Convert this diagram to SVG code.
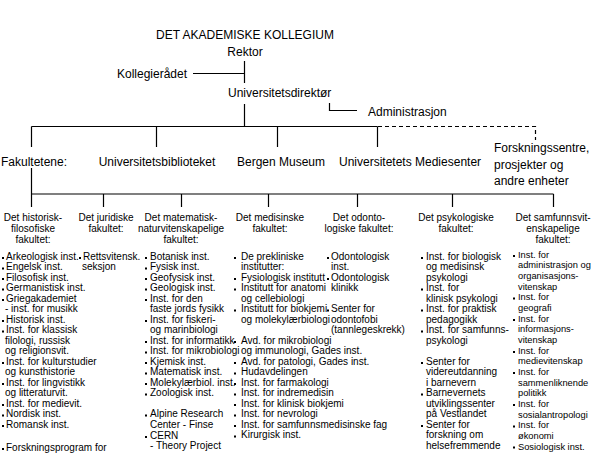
<svg xmlns="http://www.w3.org/2000/svg" width="591" height="455" viewBox="0 0 591 455">
<style>
text{font-family:"Liberation Sans",Arial,sans-serif;fill:#000}
.h{font-size:12px}
.s{font-size:10px}
.n{font-size:9.3px}
.m{text-anchor:middle}
.ln{stroke:#000;stroke-width:1.2;fill:none}
.dash{stroke:#000;stroke-width:1.2;fill:none;stroke-dasharray:4 3}
.b{fill:#000}
</style>
<rect width="591" height="455" fill="#fff"/>
<g id="connectors">
<path class="ln" d="M244.5 61V83M193 73.5H244.5M244.5 104V126.5M329.5 103V110.5H357"/>
<path class="ln" d="M31.5 126.5H377.5M31.5 126.5V147M156.5 126.5V147M277.5 126.5V147M377.5 126.5V147"/>
<path class="dash" d="M378 126.5H535.5V140"/>
<path class="ln" d="M31.5 168V194M31.5 194H553.5M31.5 194V207M103.5 194V207M181.5 194V207M268.5 194V207M357.5 194V207M452.5 194V207M553.5 194V207"/>
</g>
<g id="kollegium"><text class="h m" x="245" y="39">DET AKADEMISKE KOLLEGIUM</text></g>
<g id="rektor"><text class="h m" x="245" y="56">Rektor</text></g>
<g id="kollegieradet"><text class="h" x="117" y="77.5">Kollegierådet</text></g>
<g id="direktor"><text class="h" x="228" y="97">Universitetsdirektør</text></g>
<g id="administrasjon"><text class="h" x="368" y="115.5">Administrasjon</text></g>
<g id="fakultetene"><text class="h" x="1" y="165.5">Fakultetene:</text></g>
<g id="ub"><text class="h m" x="157" y="165.5">Universitetsbiblioteket</text></g>
<g id="museum"><text class="h" x="237" y="165.5">Bergen Museum</text></g>
<g id="mediesenter"><text class="h" x="339" y="165.5">Universitetets Mediesenter</text></g>
<g id="forskning"><text class="h" x="494" y="152">Forskningssentre,</text><text class="h" x="494" y="168.5">prosjekter og</text><text class="h" x="494" y="185">andre enheter</text></g>

<g id="hf">
<text class="s m" x="33" y="221">Det historisk-</text>
<text class="s m" x="33" y="232">filosofiske</text>
<text class="s m" x="33" y="243">fakultet:</text>
<g class="b"><rect x="2" y="257" width="2" height="2"/><rect x="2" y="267.5" width="2" height="2"/><rect x="2" y="278" width="2" height="2"/><rect x="2" y="288.5" width="2" height="2"/><rect x="2" y="299" width="2" height="2"/><rect x="2" y="320" width="2" height="2"/><rect x="2" y="330.5" width="2" height="2"/><rect x="2" y="362" width="2" height="2"/><rect x="2" y="383" width="2" height="2"/><rect x="2" y="404" width="2" height="2"/><rect x="2" y="414.5" width="2" height="2"/><rect x="2" y="425" width="2" height="2"/><rect x="2" y="448" width="2" height="2"/></g>
<text class="s" x="6" y="259.5">Arkeologisk inst.</text>
<text class="s" x="6" y="270">Engelsk inst.</text>
<text class="s" x="6" y="280.5">Filosofisk inst.</text>
<text class="s" x="6" y="291">Germanistisk inst.</text>
<text class="s" x="6" y="301.5">Griegakademiet</text>
<text class="s" x="5" y="312">- inst. for musikk</text>
<text class="s" x="6" y="322.5">Historisk inst.</text>
<text class="s" x="6" y="333">Inst. for klassisk</text>
<text class="s" x="5" y="343.5">filologi, russisk</text>
<text class="s" x="5" y="354">og religionsvit.</text>
<text class="s" x="6" y="364.5">Inst. for kulturstudier</text>
<text class="s" x="5" y="375">og kunsthistorie</text>
<text class="s" x="6" y="385.5">Inst. for lingvistikk</text>
<text class="s" x="5" y="396">og litteraturvit.</text>
<text class="s" x="6" y="406.5">Inst. for medievit.</text>
<text class="s" x="6" y="417">Nordisk inst.</text>
<text class="s" x="6" y="427.5">Romansk inst.</text>
<text class="s" x="6" y="451">Forskningsprogram for</text>
</g>

<g id="jur">
<text class="s m" x="106" y="221">Det juridiske</text>
<text class="s m" x="106" y="232">fakultet:</text>
<rect class="b" x="79" y="257" width="2" height="2"/>
<text class="s" x="83" y="259.5">Rettsvitensk.</text>
<text class="s" x="82" y="270">seksjon</text>
</g>

<g id="mn">
<text class="s m" x="181" y="221">Det matematisk-</text>
<text class="s m" x="181" y="232">naturvitenskapelige</text>
<text class="s m" x="181" y="243">fakultet:</text>
<g class="b"><rect x="145" y="257" width="2" height="2"/><rect x="145" y="267.5" width="2" height="2"/><rect x="145" y="278" width="2" height="2"/><rect x="145" y="288.5" width="2" height="2"/><rect x="145" y="299" width="2" height="2"/><rect x="145" y="320" width="2" height="2"/><rect x="145" y="341" width="2" height="2"/><rect x="145" y="351.5" width="2" height="2"/><rect x="145" y="362" width="2" height="2"/><rect x="145" y="372.5" width="2" height="2"/><rect x="145" y="383" width="2" height="2"/><rect x="145" y="393.5" width="2" height="2"/><rect x="145" y="414.5" width="2" height="2"/><rect x="145" y="436" width="2" height="2"/></g>
<text class="s" x="150" y="259.5">Botanisk inst.</text>
<text class="s" x="150" y="270">Fysisk inst.</text>
<text class="s" x="150" y="280.5">Geofysisk inst.</text>
<text class="s" x="150" y="291">Geologisk inst.</text>
<text class="s" x="150" y="301.5">Inst. for den</text>
<text class="s" x="150" y="312">faste jords fysikk</text>
<text class="s" x="150" y="322.5">Inst. for fiskeri-</text>
<text class="s" x="150" y="333">og marinbiologi</text>
<text class="s" x="150" y="343.5">Inst. for informatikk</text>
<text class="s" x="150" y="354">Inst. for mikrobiologi</text>
<text class="s" x="150" y="364.5">Kjemisk inst.</text>
<text class="s" x="150" y="375">Matematisk inst.</text>
<text class="s" x="150" y="385.5">Molekylærbiol. inst.</text>
<text class="s" x="150" y="396">Zoologisk inst.</text>
<text class="s" x="150" y="417">Alpine Research</text>
<text class="s" x="150" y="427.5">Center - Finse</text>
<text class="s" x="150" y="438.5">CERN</text>
<text class="s" x="150" y="449">- Theory Project</text>
</g>

<g id="med">
<text class="s m" x="270" y="221">Det medisinske</text>
<text class="s m" x="270" y="232">fakultet:</text>
<g class="b"><rect x="234" y="257" width="2" height="2"/><rect x="234" y="278" width="2" height="2"/><rect x="234" y="288.5" width="2" height="2"/><rect x="234" y="309.5" width="2" height="2"/><rect x="234" y="341" width="2" height="2"/><rect x="234" y="362" width="2" height="2"/><rect x="234" y="372.5" width="2" height="2"/><rect x="234" y="383" width="2" height="2"/><rect x="234" y="393.5" width="2" height="2"/><rect x="234" y="404" width="2" height="2"/><rect x="234" y="414.5" width="2" height="2"/><rect x="234" y="425" width="2" height="2"/><rect x="234" y="435.5" width="2" height="2"/></g>
<text class="s" x="241" y="259.5">De prekliniske</text>
<text class="s" x="241" y="270">institutter:</text>
<text class="s" x="241" y="280.5">Fysiologisk institutt</text>
<text class="s" x="241" y="291">Institutt for anatomi</text>
<text class="s" x="241" y="301.5">og cellebiologi</text>
<text class="s" x="241" y="312">Institutt for biokjemi</text>
<text class="s" x="241" y="322.5">og molekylærbiologi</text>
<text class="s" x="241" y="343.5">Avd. for  mikrobiologi</text>
<text class="s" x="241" y="354">og immunologi, Gades inst.</text>
<text class="s" x="241" y="364.5">Avd. for patologi, Gades inst.</text>
<text class="s" x="241" y="375">Hudavdelingen</text>
<text class="s" x="241" y="385.5">Inst. for farmakologi</text>
<text class="s" x="241" y="396">Inst. for indremedisin</text>
<text class="s" x="241" y="406.5">Inst. for klinisk biokjemi</text>
<text class="s" x="241" y="417">Inst. for nevrologi</text>
<text class="s" x="241" y="427.5">Inst. for samfunnsmedisinske fag</text>
<text class="s" x="241" y="438">Kirurgisk inst.</text>
</g>

<g id="odont">
<text class="s m" x="359" y="221">Det odonto-</text>
<text class="s m" x="359" y="232">logiske fakultet:</text>
<g class="b"><rect x="327" y="257" width="2" height="2"/><rect x="327" y="278" width="2" height="2"/><rect x="327" y="309.5" width="2" height="2"/></g>
<text class="s" x="331" y="259.5">Odontologisk</text>
<text class="s" x="331" y="270">inst.</text>
<text class="s" x="331" y="280.5">Odontologisk</text>
<text class="s" x="331" y="291">klinikk</text>
<text class="s" x="331" y="312">Senter for</text>
<text class="s" x="331" y="322.5">odontofobi</text>
<text class="s" x="331" y="333">(tannlegeskrekk)</text>
</g>

<g id="psyk">
<text class="s m" x="456" y="221">Det psykologiske</text>
<text class="s m" x="456" y="232">fakultet:</text>
<g class="b"><rect x="421" y="257" width="2" height="2"/><rect x="421" y="288.5" width="2" height="2"/><rect x="421" y="309.5" width="2" height="2"/><rect x="421" y="330.5" width="2" height="2"/><rect x="421" y="362" width="2" height="2"/><rect x="421" y="393.5" width="2" height="2"/><rect x="421" y="425" width="2" height="2"/></g>
<text class="s" x="426" y="259.5">Inst. for biologisk</text>
<text class="s" x="426" y="270">og medisinsk</text>
<text class="s" x="426" y="280.5">psykologi</text>
<text class="s" x="426" y="291">Inst. for</text>
<text class="s" x="426" y="301.5">klinisk psykologi</text>
<text class="s" x="426" y="312">Inst. for praktisk</text>
<text class="s" x="426" y="322.5">pedagogikk</text>
<text class="s" x="426" y="333">Inst. for samfunns-</text>
<text class="s" x="426" y="343.5">psykologi</text>
<text class="s" x="426" y="364.5">Senter for</text>
<text class="s" x="426" y="375">videreutdanning</text>
<text class="s" x="426" y="385.5">i barnevern</text>
<text class="s" x="426" y="396">Barnevernets</text>
<text class="s" x="426" y="406.5">utviklingssenter</text>
<text class="s" x="426" y="417">på Vestlandet</text>
<text class="s" x="426" y="427.5">Senter for</text>
<text class="s" x="426" y="438">forskning om</text>
<text class="s" x="426" y="448.5">helsefremmende</text>
</g>

<g id="sv">
<text class="s m" x="553" y="221">Det samfunnsvit-</text>
<text class="s m" x="553" y="232">enskapelige</text>
<text class="s m" x="553" y="243">fakultet:</text>
<g class="b"><rect x="513" y="255" width="2" height="2"/><rect x="513" y="297.5" width="2" height="2"/><rect x="513" y="319" width="2" height="2"/><rect x="513" y="351" width="2" height="2"/><rect x="513" y="372" width="2" height="2"/><rect x="513" y="404" width="2" height="2"/><rect x="513" y="425.5" width="2" height="2"/><rect x="513" y="446.5" width="2" height="2"/></g>
<g class="n">
<text x="518" y="257.5">Inst. for</text>
<text x="518" y="268">administrasjon og</text>
<text x="518" y="279">organisasjons-</text>
<text x="518" y="289.5">vitenskap</text>
<text x="518" y="300">Inst. for</text>
<text x="518" y="311">geografi</text>
<text x="518" y="321.5">Inst. for</text>
<text x="518" y="332">informasjons-</text>
<text x="518" y="343">vitenskap</text>
<text x="518" y="353.5">Inst. for</text>
<text x="518" y="364">medievitenskap</text>
<text x="518" y="375">Inst. for</text>
<text x="518" y="385.5">sammenliknende</text>
<text x="518" y="396">politikk</text>
<text x="518" y="407">Inst. for</text>
<text x="518" y="417.5">sosialantropologi</text>
<text x="518" y="428">Inst. for</text>
<text x="518" y="439">økonomi</text>
<text x="518" y="449.5">Sosiologisk inst.</text>
</g>
</g>
</svg>
